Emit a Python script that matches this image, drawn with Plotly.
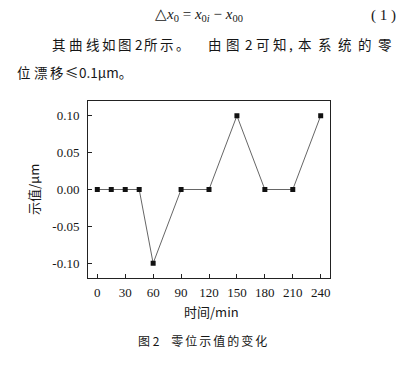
import plotly.graph_objects as go

time_min = [0, 15, 30, 45, 60, 90, 120, 150, 180, 210, 240]
reading_um = [0.0, 0.0, 0.0, 0.0, -0.10, 0.0, 0.0, 0.10, 0.0, 0.0, 0.10]
x_ticks = [0, 30, 60, 90, 120, 150, 180, 210, 240]
y_ticks = [-0.10, -0.05, 0.0, 0.05, 0.10]
y_tick_text = ["-0.10", "-0.05", "0.00", "0.05", "0.10"]

W, H = 408, 366
L, R, T, B = 88, 330, 101, 278

def px(x):
    return (x - L) / (R - L)

def py(y):
    return (B - y) / (B - T)

SERIF = "Liberation Serif"
CJK = "Noto Sans CJK SC"
INK = "#161616"

fig = go.Figure()
fig.add_trace(go.Scatter(
    x=time_min, y=reading_um, mode="lines+markers",
    line=dict(color="#666666", width=1),
    marker=dict(symbol="square", size=5, color="#111111"),
    showlegend=False,
))

axis_common = dict(showline=True, linecolor="#222222", linewidth=1, mirror=True,
                   ticks="inside", ticklen=4, tickcolor="#222222", showgrid=False,
                   zeroline=False, tickfont=dict(family=SERIF, size=13, color=INK))
fig.update_xaxes(range=[-10, 250], tickvals=x_ticks, ticklabelstandoff=2, **axis_common)
fig.update_yaxes(range=[-0.12, 0.12], tickvals=y_ticks, ticktext=y_tick_text,
                 ticklabelstandoff=5, **axis_common)

def spaced(s, sep="\u2005"):
    return sep.join(list(s))

ann = []
def add(text, x, y, size, family, xanchor="center", angle=0, color=INK):
    ann.append(dict(text=text, x=px(x), y=py(y), xref="paper", yref="paper",
                    showarrow=False, xanchor=xanchor, yanchor="middle",
                    textangle=angle, font=dict(family=family, size=size, color=color)))

add("△<i>x</i><sub>0</sub> = <i>x</i><sub>0<i>i</i></sub> − <i>x</i><sub>00</sub>", 153, 15, 15, SERIF, xanchor="left")
add("( 1 )", 383, 15, 15, SERIF)

# justified paragraph line: glyphs placed at the left edges seen in the scan
line2 = "其曲线如图2所示。由图2可知,本系统的零"
line2_left = [50, 67, 84, 100, 116, 133, 142, 158, 174, 206,
              224, 243, 254, 271, 287, 296, 316, 336, 356, 376]
for c, xl in zip(line2, line2_left):
    add(c, xl, 44, 13.5, CJK, xanchor="left")

line3 = ["位", "漂", "移", "≤", "0.1μm。"]
line3_left = [15, 32, 48, 63, 77]
for c, xl in zip(line3, line3_left):
    add(c, xl, 72, 13.5, CJK, xanchor="left")

add("时间/min", 211, 311, 13, CJK)
add("示值/μm", 33, 190, 13, CJK, angle=-90)
add("图 2　" + spaced("零位示值的变化", "\u2006"), 202, 340, 12, CJK)

fig.update_layout(width=W, height=H, margin=dict(l=L, r=W - R, t=T, b=H - B),
                  paper_bgcolor="white", plot_bgcolor="white", annotations=ann)

fig.write_html("out.html")
